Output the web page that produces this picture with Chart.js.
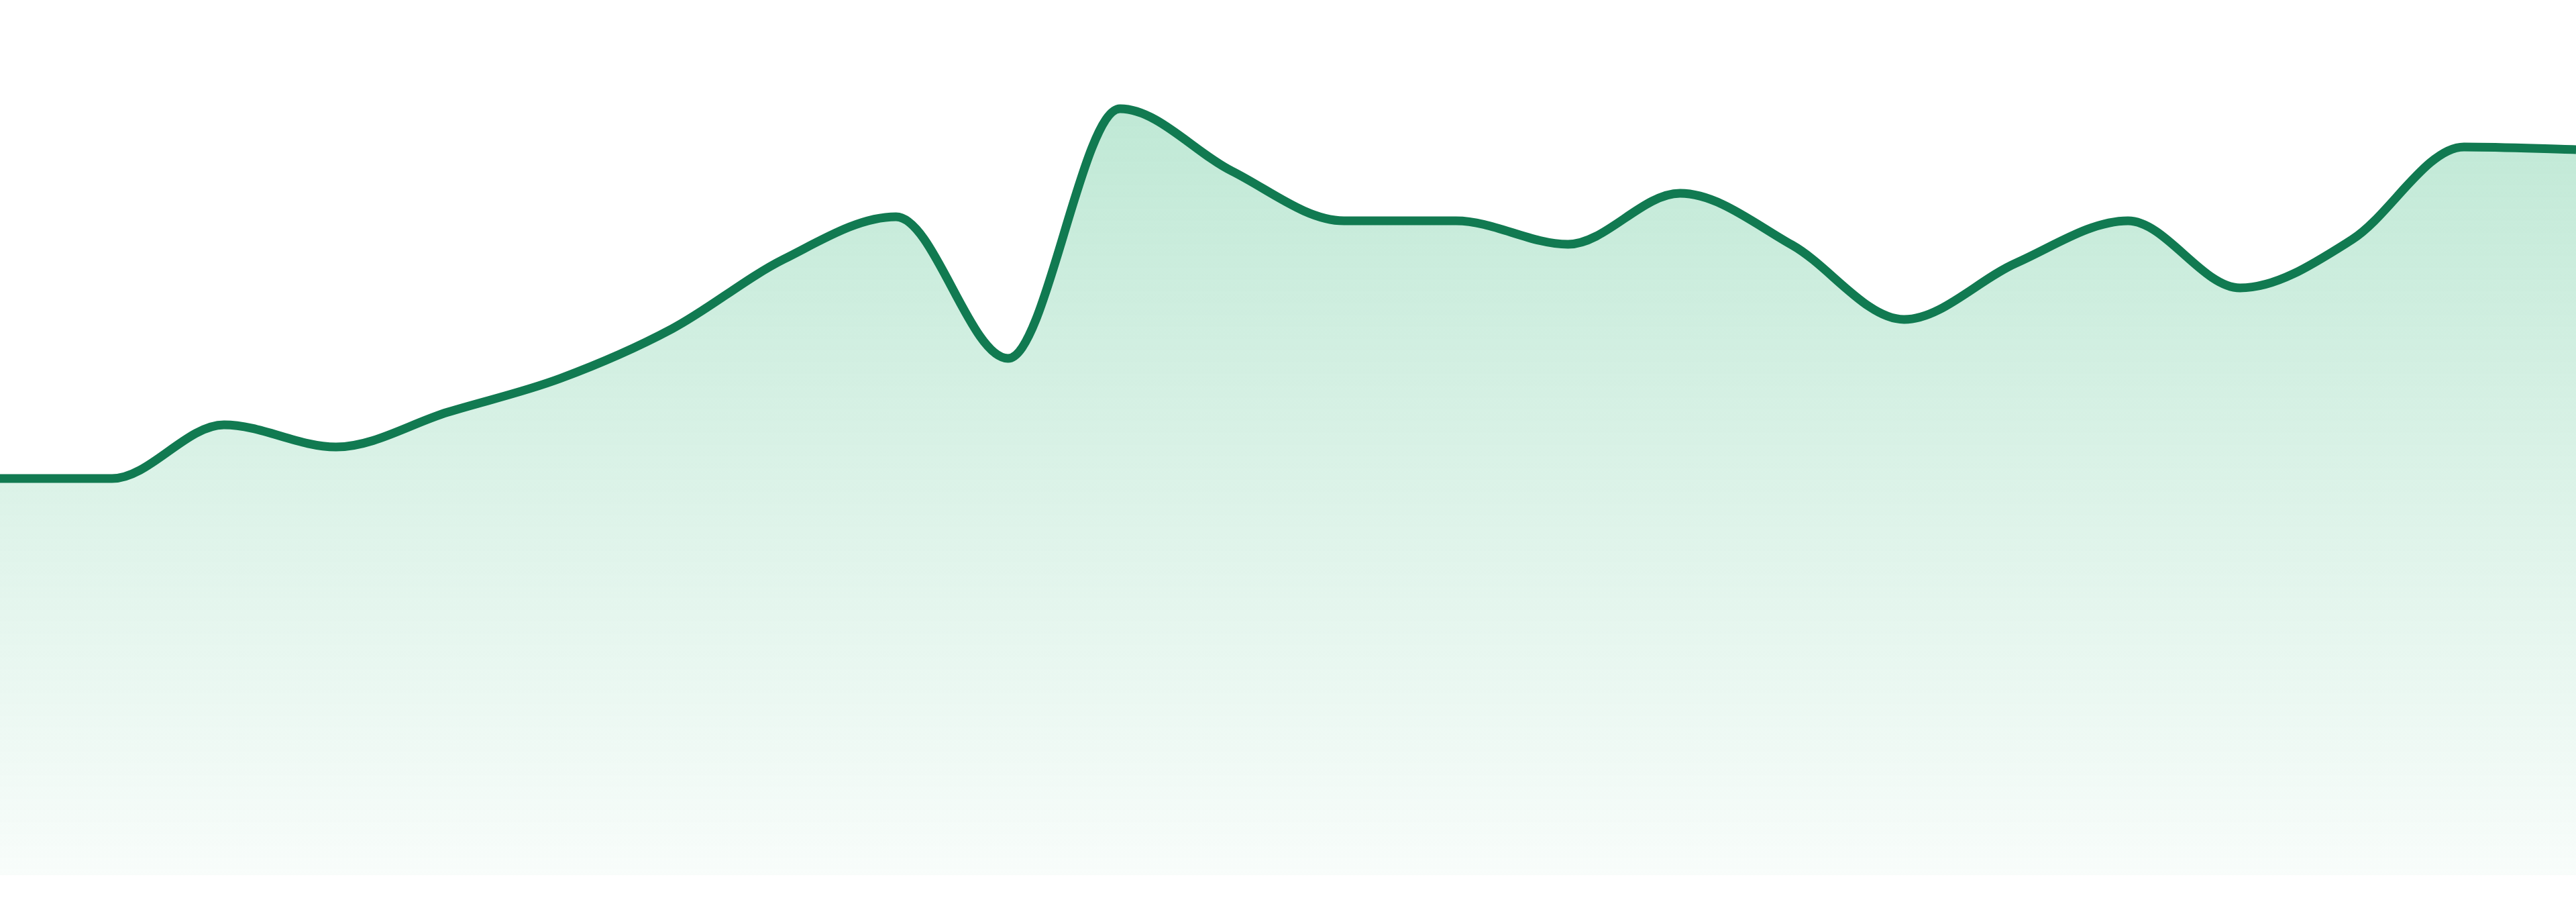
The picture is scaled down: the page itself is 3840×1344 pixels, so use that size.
<!DOCTYPE html>
<html>
<head>
<meta charset="utf-8">
<script src="https://cdn.jsdelivr.net/npm/chart.js@4"></script>
<style>
  html, body { margin: 0; padding: 0; background: #ffffff; }
  #wrap { width: 3840px; height: 1344px; position: relative; }
</style>
</head>
<body>
<div id="wrap"><canvas id="trend"></canvas></div>
<script>
// data (hidden axes, so units are arbitrary)
var labels = ['00:00', '01:00', '02:00', '03:00', '04:00', '05:00', '06:00', '07:00',
              '08:00', '09:00', '10:00', '11:00', '12:00', '13:00', '14:00', '15:00',
              '16:00', '17:00', '18:00', '19:00', '20:00', '21:00', '22:00', '23:00'];
var values = [59.1, 59.1, 67.1, 63.8, 69.0, 74.0, 81.4, 91.8,
              98.1, 77.0, 114.2, 104.9, 97.5, 97.5, 94.0, 101.6,
              93.9, 82.8, 91.2, 97.5, 87.5, 94.7, 108.5, 108.1];
var yMin = 0;
var yMax = 130;

var lineColor = 'rgb(17,122,81)';

// gradient isi area, dibuat ulang sesuai ukuran chartArea
function areaGradient(context) {
  var chart = context.chart;
  var area = chart.chartArea;
  if (!area) return 'rgba(34,177,110,0.2)';
  var g = chart.ctx.createLinearGradient(0, area.top, 0, area.bottom);
  g.addColorStop(0, 'rgba(34,177,110,0.32)');
  g.addColorStop(1, 'rgba(34,177,110,0.03)');
  return g;
}

var trendChart = new Chart(document.getElementById('trend'), {
  type: 'line',
  data: {
    labels: labels,
    datasets: [{
      label: 'Value',
      data: values,
      borderColor: lineColor,
      borderWidth: 13,
      backgroundColor: areaGradient,
      fill: 'start',
      tension: 0.4,
      cubicInterpolationMode: 'monotone',
      pointRadius: 0,
      pointHoverRadius: 0
    }]
  },
  options: {
    responsive: true,
    maintainAspectRatio: false,
    animation: false,
    layout: { padding: { top: 4, bottom: 40, left: 0, right: 0 } },
    plugins: {
      legend: { display: false },
      tooltip: { enabled: false }
    },
    scales: {
      x: { display: false },
      y: { display: false, min: yMin, max: yMax }
    }
  }
});
</script>
</body>
</html>
